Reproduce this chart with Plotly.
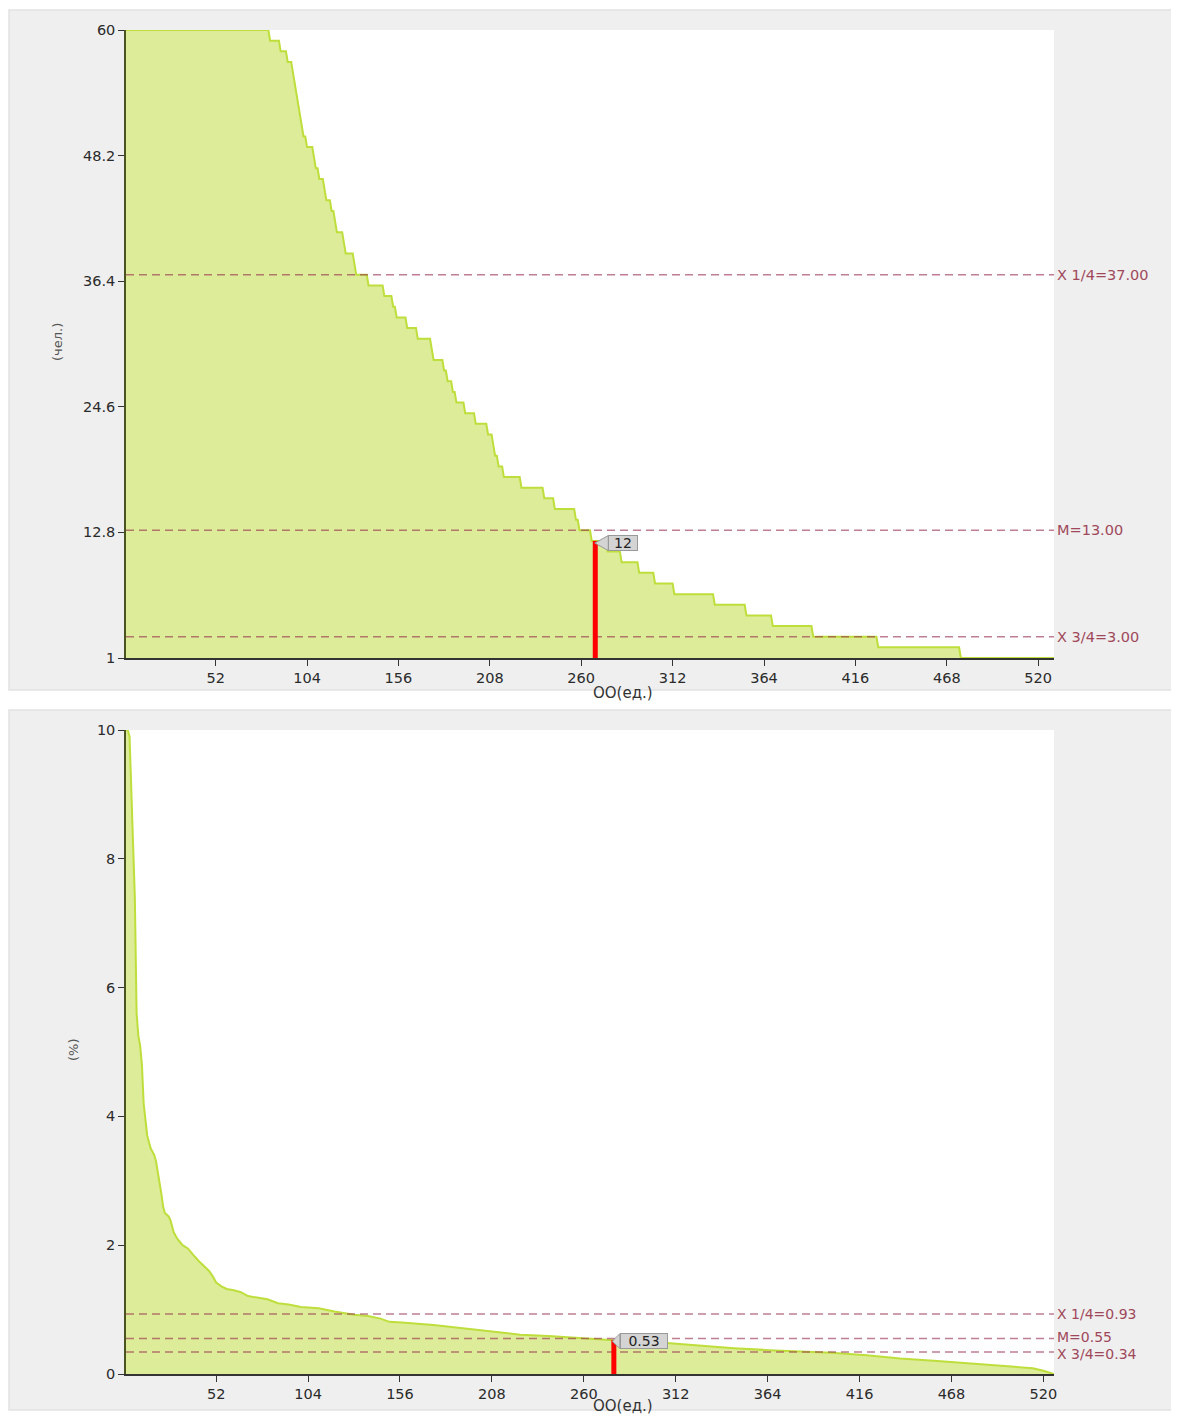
import numpy as np
import plotly.graph_objects as go

# figure size (the page body adds a small margin around it)
W, H = 1171, 1416

# ---------------- data ----------------
# top chart: number of people per OO, sorted descending (value, number of OO with that value)
count_values = [60, 59, 58, 57, 56, 55, 54, 53, 52, 51, 50, 49, 48, 47, 46, 45, 44, 43, 42, 41,
                40, 39, 38, 37, 36, 35, 34, 33, 32, 31, 30, 29, 28, 27, 26, 25, 24, 23, 22, 21,
                20, 19, 18, 17, 16, 15, 14, 13, 12, 11, 10, 9, 8, 7, 6, 5, 4, 3, 2, 1]
count_runs = [82, 6, 4, 3, 1, 1, 1, 1, 1, 1, 2, 4, 1, 2, 3, 1, 3, 2, 1, 4,
              1, 5, 1, 7, 9, 5, 2, 6, 6, 8, 1, 6, 2, 3, 2, 5, 6, 7, 3, 1,
              2, 3, 10, 13, 6, 12, 2, 7, 9, 8, 10, 9, 11, 23, 18, 15, 23, 37, 47, 54]

# bottom chart: percent per OO, sorted descending (rank, value)
pct_rank = [1, 2, 3, 4, 5, 6, 7, 8, 9, 10, 11, 12, 13, 14, 15, 16, 17, 18, 19, 20,
            21, 22, 23, 25, 26, 27, 28, 30, 33, 36, 38, 40, 43, 45, 48, 50, 52, 55, 58, 62,
            66, 70, 75, 81, 87, 93, 100, 110, 119, 130, 138, 145, 150, 157, 175, 194, 210, 224, 240, 251,
            265, 275, 290, 307, 325, 345, 365, 383, 400, 420, 439, 460, 480, 496, 514, 520, 526]
pct_vals = [10.0, 10.0, 9.9, 9.0, 8.4, 7.4, 5.6, 5.25, 5.1, 4.8, 4.2, 3.9, 3.7, 3.6, 3.5, 3.45, 3.4, 3.3, 3.15, 3.0,
            2.8, 2.6, 2.5, 2.45, 2.4, 2.3, 2.2, 2.1, 2.0, 1.95, 1.88, 1.82, 1.73, 1.68, 1.6, 1.52, 1.42, 1.36, 1.32, 1.30,
            1.27, 1.21, 1.19, 1.16, 1.10, 1.08, 1.04, 1.02, 0.97, 0.92, 0.90, 0.86, 0.81, 0.80, 0.76, 0.70, 0.66, 0.61, 0.59, 0.57,
            0.55, 0.53, 0.50, 0.48, 0.44, 0.40, 0.37, 0.35, 0.33, 0.29, 0.24, 0.20, 0.16, 0.13, 0.09, 0.05, 0.0]

top_ticks = [1, 12.8, 24.6, 36.4, 48.2, 60]
bot_ticks = [0, 2, 4, 6, 8, 10]
x_ticks = [52, 104, 156, 208, 260, 312, 364, 416, 468, 520]

top_lines = [37.0, 13.0, 3.0]
top_line_labels = ["X 1/4=37.00", "M=13.00", "X 3/4=3.00"]
bot_lines = [0.93, 0.55, 0.34]
bot_line_labels = ["X 1/4=0.93", "M=0.55", "X 3/4=0.34"]

top_mark_rank, top_mark_val, top_mark_text = 268, 12, "12"
bot_mark_rank, bot_mark_val, bot_mark_text = 277, 0.53, "0.53"

# ---------------- styles ----------------
FONT = "DejaVu Sans"
FILL = "rgb(220,236,152)"
LINE = "rgb(190,222,60)"
DASH = "rgba(150,40,75,0.6)"
LABEL = "#a0485a"


def fx(x):
    return x - 7


def fy(y):
    return y - 8


def px(x):
    return fx(x) / W


def py(y):
    return 1 - fy(y) / H


top_vals = np.repeat(count_values, count_runs)
top_rank = np.arange(1, len(top_vals) + 1)
n_top = len(top_vals)
n_bot = pct_rank[-1]

fig = go.Figure()
fig.add_trace(go.Scatter(x=top_rank, y=top_vals, mode="lines", line=dict(color=LINE, width=2),
                         fill="tozeroy", fillcolor=FILL, xaxis="x", yaxis="y", hoverinfo="skip"))
fig.add_trace(go.Scatter(x=pct_rank, y=pct_vals, mode="lines", line=dict(color=LINE, width=2),
                         fill="tozeroy", fillcolor=FILL, xaxis="x2", yaxis="y2", hoverinfo="skip"))

shapes = []
# panel backgrounds
for (y0, y1, a0, a1) in [(10, 690, 30, 658), (710, 1410, 730, 1374)]:
    shapes.append(dict(type="rect", xref="paper", yref="paper", x0=px(8), x1=px(1200),
                       y0=py(y1), y1=min(1.0, py(y0)),
                       fillcolor="#efefef", line=dict(color="#e2e2e2", width=1.5), layer="below"))
    shapes.append(dict(type="rect", xref="paper", yref="paper", x0=px(125), x1=px(1053), y0=py(a1), y1=py(a0),
                       fillcolor="white", line=dict(width=0), layer="below"))

annotations = []
# quartile lines (small vertical nudges keep the close bottom labels apart)
top_shifts = [0, 0, 0]
bot_shifts = [0, 2, -2]
for v, lab, s in zip(top_lines, top_line_labels, top_shifts):
    shapes.append(dict(type="line", xref="x", yref="y", x0=1, x1=n_top, y0=v, y1=v,
                       line=dict(color=DASH, width=1.5, dash="8px,5px"), layer="above"))
    annotations.append(dict(xref="paper", yref="y", x=px(1054), y=v, text=lab, showarrow=False, yshift=s,
                            xanchor="left", yanchor="middle", font=dict(family=FONT, size=14.5, color=LABEL)))
for v, lab, s in zip(bot_lines, bot_line_labels, bot_shifts):
    shapes.append(dict(type="line", xref="x2", yref="y2", x0=1, x1=n_bot, y0=v, y1=v,
                       line=dict(color=DASH, width=1.5, dash="8px,5px"), layer="above"))
    annotations.append(dict(xref="paper", yref="y2", x=px(1054), y=v, text=lab, showarrow=False, yshift=s,
                            xanchor="left", yanchor="middle", font=dict(family=FONT, size=14, color=LABEL)))

# highlighted OO bars
shapes.append(dict(type="line", xref="x", yref="y", x0=top_mark_rank, x1=top_mark_rank, y0=1, y1=top_mark_val,
                   line=dict(color="red", width=5), layer="above"))
shapes.append(dict(type="line", xref="x2", yref="y2", x0=bot_mark_rank, x1=bot_mark_rank, y0=0, y1=bot_mark_val,
                   line=dict(color="red", width=5), layer="above"))

# callout tabs (sizes in px converted to data units)
plot_w = fx(1053) - fx(125)
top_xu = (n_top - 1) / plot_w
top_yu = 59 / (fy(658) - fy(30))
bot_xu = (n_bot - 1) / plot_w
bot_yu = 10 / (fy(1374) - fy(730))
tx, ty = top_mark_rank - 0.5 * top_xu, top_mark_val - 0.2
shapes.append(dict(type="path", xref="x", yref="y",
                   path=f"M {tx} {ty} L {top_mark_rank + 13 * top_xu} {ty + 7.5 * top_yu} "
                        f"L {top_mark_rank + 13 * top_xu} {ty - 7.5 * top_yu} Z",
                   fillcolor="#d4d4d4", line=dict(color="#999", width=1), layer="above"))
annotations.append(dict(xref="x", yref="y", x=top_mark_rank, y=ty, text=top_mark_text, showarrow=False,
                        xanchor="left", yanchor="middle", xshift=13, width=28, height=14, align="center",
                        bgcolor="#d4d4d4", bordercolor="#999", borderwidth=1, borderpad=0,
                        font=dict(family=FONT, size=14, color="#222")))
bx, by = bot_mark_rank - 1.5 * bot_xu, bot_mark_val - 0.02
shapes.append(dict(type="path", xref="x2", yref="y2",
                   path=f"M {bx} {by} L {bot_mark_rank + 6 * bot_xu} {by + 7.5 * bot_yu} "
                        f"L {bot_mark_rank + 6 * bot_xu} {by - 7.5 * bot_yu} Z",
                   fillcolor="#d4d4d4", line=dict(color="#999", width=1), layer="above"))
annotations.append(dict(xref="x2", yref="y2", x=bot_mark_rank, y=by, text=bot_mark_text, showarrow=False,
                        xanchor="left", yanchor="middle", xshift=6, width=46, height=14, align="center",
                        bgcolor="#d4d4d4", bordercolor="#999", borderwidth=1, borderpad=0,
                        font=dict(family=FONT, size=14, color="#222")))

# axis titles
annotations.append(dict(xref="paper", yref="paper", x=px(57), y=py(342), text="(чел.)", textangle=-90,
                        showarrow=False, xanchor="center", yanchor="middle",
                        font=dict(family=FONT, size=13, color="#555")))
annotations.append(dict(xref="paper", yref="paper", x=px(72), y=py(1050), text="(%)", textangle=-90,
                        showarrow=False, xanchor="center", yanchor="middle",
                        font=dict(family=FONT, size=13, color="#555")))
annotations.append(dict(xref="paper", yref="paper", x=px(622), y=py(693), text="ОО(ед.)",
                        showarrow=False, xanchor="center", yanchor="middle",
                        font=dict(family=FONT, size=15, color="#333")))
annotations.append(dict(xref="paper", yref="paper", x=px(622), y=py(1406), text="ОО(ед.)",
                        showarrow=False, xanchor="center", yanchor="middle",
                        font=dict(family=FONT, size=15, color="#333")))

xdom = [px(125), px(1053)]
axis_common = dict(showgrid=False, zeroline=False, showline=True, ticks="outside", ticklen=6,
                   tickcolor="#333", automargin=False,
                   tickfont=dict(family=FONT, size=14.5, color="#2a2a2a"))

fig.update_layout(
    width=W, height=H, margin=dict(l=0, r=0, t=0, b=0),
    paper_bgcolor="white", plot_bgcolor="white", showlegend=False,
    xaxis=dict(domain=xdom, range=[1, n_top], tickvals=x_ticks, anchor="y", linecolor="#333",
               linewidth=1.5, layer="below traces", **axis_common),
    yaxis=dict(domain=[py(658), py(30)], range=[1, 60], tickvals=top_ticks,
               ticktext=[f"{t:g}" for t in top_ticks], anchor="x", linecolor="#4b5320", linewidth=1.5,
               **axis_common),
    xaxis2=dict(domain=xdom, range=[1, n_bot], tickvals=x_ticks, anchor="y2", linecolor="#333",
                linewidth=1.5, **axis_common),
    yaxis2=dict(domain=[py(1374), py(730)], range=[0, 10], tickvals=bot_ticks, anchor="x2",
                linecolor="#4b5320", linewidth=1.5, **axis_common),
    shapes=shapes, annotations=annotations,
)

fig.write_html("out.html")
